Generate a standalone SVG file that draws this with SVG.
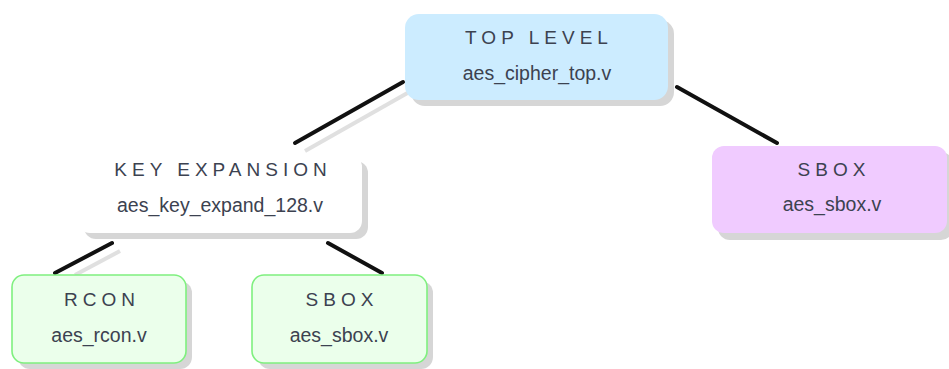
<svg xmlns="http://www.w3.org/2000/svg" width="949" height="369" viewBox="0 0 949 369">
  <style>
    .shadow { fill: #d6d6d6; }
    .wire { stroke: #111; stroke-width: 4; stroke-linecap: round; fill: none; }
    .wire-sh { stroke: #e0e0e0; stroke-width: 4; fill: none; }
    .title { font-family: "Liberation Sans", Arial, sans-serif; font-size: 19px; letter-spacing: 5px; fill: #3c4250; text-anchor: middle; }
    .file { font-family: "Liberation Sans", Arial, sans-serif; font-size: 19.5px; fill: #3c4250; text-anchor: middle; }
    .blue { fill: #ccecff; }
    .white { fill: #ffffff; }
    .purple { fill: #f0cbff; }
    .green { fill: #ebffeb; stroke: #7ff07f; stroke-width: 1.6; }
  </style>

  <!-- connectors -->
  <g id="connectors">
    <line class="wire-sh" x1="411" y1="91" x2="305" y2="151"/>
    <line class="wire-sh" x1="120" y1="251" x2="75" y2="275"/>
    <line class="wire" x1="403" y1="82" x2="295" y2="143"/>
    <line class="wire" x1="677" y1="87" x2="777" y2="143"/>
    <line class="wire" x1="112" y1="243" x2="55" y2="273"/>
    <line class="wire" x1="328" y1="243" x2="382" y2="273"/>
  </g>

  <g id="top-level">
    <rect class="shadow" x="411" y="20" width="263" height="86" rx="14"/>
    <rect class="blue" x="405" y="14" width="263" height="86" rx="14"/>
    <text class="title" x="539" y="44">TOP LEVEL</text>
    <text class="file" x="537" y="80">aes_cipher_top.v</text>
  </g>

  <g id="key-expansion">
    <rect class="shadow" x="84" y="161" width="284" height="78" rx="12"/>
    <rect class="white" x="78" y="155" width="284" height="78" rx="12"/>
    <text class="title" x="223" y="176">KEY EXPANSION</text>
    <text class="file" x="220" y="212">aes_key_expand_128.v</text>
  </g>

  <g id="sbox-top">
    <rect class="shadow" x="718" y="152" width="235" height="88" rx="12"/>
    <rect class="purple" x="712" y="146" width="235" height="87" rx="12"/>
    <text class="title" x="834" y="176">SBOX</text>
    <text class="file" x="832" y="211">aes_sbox.v</text>
  </g>

  <g id="rcon">
    <rect class="shadow" x="18" y="281" width="174" height="88" rx="12"/>
    <rect class="green" x="12" y="275" width="174" height="88" rx="12"/>
    <text class="title" x="102" y="306">RCON</text>
    <text class="file" x="99" y="342">aes_rcon.v</text>
  </g>

  <g id="sbox-bottom">
    <rect class="shadow" x="258" y="281" width="175" height="88" rx="12"/>
    <rect class="green" x="252" y="275" width="175" height="88" rx="12"/>
    <text class="title" x="342" y="306">SBOX</text>
    <text class="file" x="339" y="342">aes_sbox.v</text>
  </g>
</svg>
